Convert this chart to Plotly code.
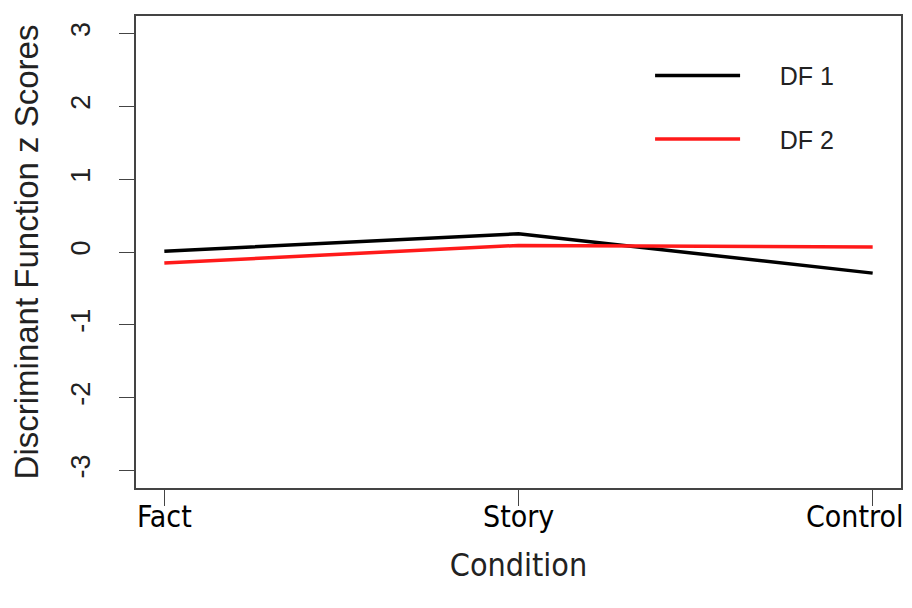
import plotly.graph_objects as go

categories = ["Fact", "Story", "Control"]
df1 = [0.01, 0.25, -0.29]
df2 = [-0.15, 0.09, 0.07]
series_names = ["DF 1", "DF 2"]
y_ticks = [-3, -2, -1, 0, 1, 2, 3]
y_tick_labels = [str(v) for v in y_ticks]

pad = "\u00a0" * 5
fig = go.Figure()
fig.add_trace(go.Scatter(x=categories, y=df1, mode="lines", name=pad + series_names[0],
                         line=dict(color="black", width=3.5), legendgroup="a"))
fig.add_trace(go.Scatter(x=categories, y=df2, mode="lines", name=pad + series_names[1],
                         line=dict(color="#ff1a1a", width=3.5), legendgroup="b"))

narrow = "Liberation Sans Narrow, DejaVu Sans Condensed, sans-serif"
sans = "Liberation Sans, Arial, sans-serif"

# category labels drawn as annotations so the last one can stay inside the page
for i, cat in enumerate(categories):
    last = i == len(categories) - 1
    fig.add_annotation(
        x=cat, xref="x", y=0, yref="paper",
        text=cat, showarrow=False,
        xanchor="right" if last else "center", xshift=33 if last else 0,
        yanchor="top", yshift=-9,
        font=dict(family=narrow, size=30, color="black"),
    )

fig.update_layout(
    width=904, height=600,
    margin=dict(l=128, r=11, t=8, b=120),
    plot_bgcolor="white", paper_bgcolor="white",
    showlegend=True,
    legend=dict(x=0.672, y=0.922, xanchor="left", yanchor="top",
                font=dict(family=sans, size=25, color="#222"),
                bgcolor="rgba(0,0,0,0)", itemwidth=85, tracegroupgap=28,
                traceorder="grouped"),
    xaxis=dict(
        type="category", range=[-0.08, 2.08], automargin=False,
        showticklabels=False,
        showline=True, mirror=True, linecolor="#444", linewidth=1.5,
        ticks="outside", ticklen=16, tickcolor="#444", tickwidth=1,
        showgrid=False, zeroline=False,
        title=dict(text="Condition", standoff=49,
                   font=dict(family=narrow, size=32, color="#222")),
    ),
    yaxis=dict(
        range=[-3.24, 3.24], tickvals=y_ticks, ticktext=y_tick_labels, automargin=False,
        showline=True, mirror=True, linecolor="#444", linewidth=1.5,
        ticks="outside", ticklen=15, tickcolor="#444", tickwidth=1,
        tickangle=-90, ticklabelstandoff=18,
        showgrid=False, zeroline=False,
        tickfont=dict(family=sans, size=27, color="#222"),
        title=dict(text="Discriminant Function z Scores", standoff=22,
                   font=dict(family=sans, size=33, color="#222")),
    ),
)

fig.write_html("out.html")
